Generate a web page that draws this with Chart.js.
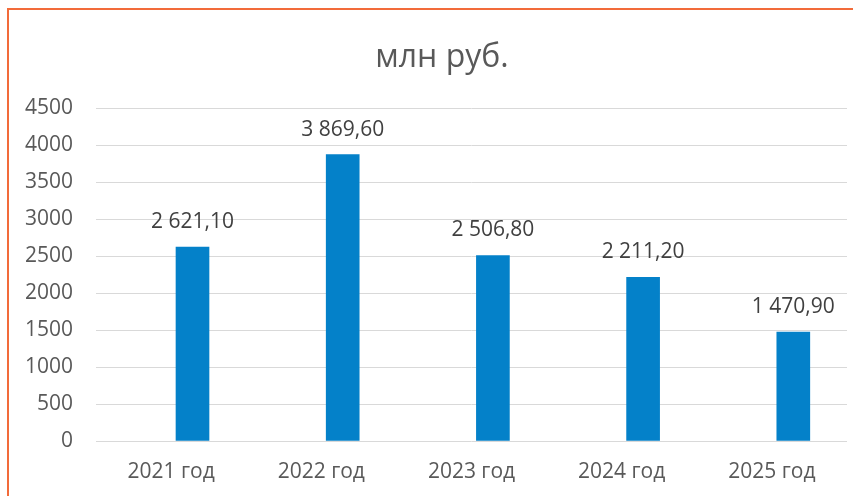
<!DOCTYPE html>
<html>
<head>
<meta charset="utf-8">
<script src="https://cdn.jsdelivr.net/npm/chart.js@4"></script>
<style>
  html, body { margin: 0; padding: 0; overflow: hidden; background: #fff; }
  #wrap { position: relative; width: 853px; height: 496px; overflow: hidden; }
  #frame { position: absolute; left: 7px; top: 8px; width: 900px; height: 600px; border: 2px solid #f26b3a; box-sizing: border-box; }
  #box { position: absolute; left: 0; top: 0; width: 853px; height: 496px; }
</style>
</head>
<body>
<div id="wrap">
  <div id="frame"></div>
  <div id="box"><canvas id="revenueChart"></canvas></div>
</div>
<script>
const years = ['2021 год', '2022 год', '2023 год', '2024 год', '2025 год'];
const amounts = [2621.1, 3869.6, 2506.8, 2211.2, 1470.9];
const yTicks = [0, 500, 1000, 1500, 2000, 2500, 3000, 3500, 4000, 4500];
const chartTitle = 'млн руб.';

const fontFamily = '"Open Sans", sans-serif';

// 2621.1 -> "2 621,10"
function formatRub(v) {
    const parts = v.toFixed(2).split('.');
    const intPart = parts[0].replace(/\B(?=(\d{3})+(?!\d))/g, ' ');
    return intPart + ',' + parts[1];
}

// value labels above the bars
const barLabels = {
    id: 'barLabels',
    afterDatasetsDraw(chart) {
        const ctx = chart.ctx;
        const meta = chart.getDatasetMeta(0);
        ctx.save();
        ctx.font = '21px ' + fontFamily;
        ctx.fillStyle = '#404040';
        ctx.textAlign = 'center';
        ctx.textBaseline = 'middle';
        meta.data.forEach((bar, i) => {
            ctx.fillText(formatRub(amounts[i]), bar.x, bar.y - 25);
        });
        ctx.restore();
    }
};

// title is centred on the whole frame, not on the plot, so draw it by hand
const frameTitle = {
    id: 'frameTitle',
    afterDraw(chart) {
        const ctx = chart.ctx;
        ctx.save();
        ctx.font = '32px ' + fontFamily;
        ctx.fillStyle = '#595959';
        ctx.textAlign = 'center';
        ctx.textBaseline = 'middle';
        ctx.fillText(chartTitle, 442, 58);
        ctx.restore();
    }
};

const ctx = document.getElementById('revenueChart').getContext('2d');
let revenueChart = new Chart(ctx, {
    type: 'bar',
    data: {
        labels: years,
        datasets: [{
            label: chartTitle,
            data: amounts.map((v, i) => ({ x: i, y: v })),
            xAxisID: 'xb',
            backgroundColor: '#0481c9',
            barThickness: 33
        }]
    },
    options: {
        responsive: true,
        maintainAspectRatio: false,
        animation: false,
        layout: { padding: { left: 10, right: 6, top: 108, bottom: 0 } },
        scales: {
            y: {
                min: 0,
                max: 4500,
                afterBuildTicks: axis => { axis.ticks = yTicks.map(v => ({ value: v })); },
                afterFit: axis => { axis.width = 86; },
                grid: { color: '#d9d9d9', drawTicks: false },
                border: { display: false },
                ticks: {
                    color: '#595959',
                    font: { family: fontFamily, size: 21 },
                    padding: 23,
                    callback: v => String(v)
                }
            },
            // category axis carries the year labels
            x: {
                type: 'category',
                offset: true,
                afterFit: axis => { axis.height = 55; },
                grid: { display: false, drawTicks: false },
                border: { display: false },
                ticks: {
                    color: '#595959',
                    font: { family: fontFamily, size: 21 },
                    padding: 18,
                    maxRotation: 0,
                    autoSkip: false
                }
            },
            // bars sit right of the category centre (empty first series in the original)
            xb: {
                type: 'linear',
                display: false,
                offset: false,
                min: -0.6425,
                max: 4.3575
            }
        },
        plugins: {
            legend: { display: false },
            tooltip: { enabled: false },
            title: { display: false }
        }
    },
    plugins: [barLabels, frameTitle]
});
</script>
</body>
</html>
